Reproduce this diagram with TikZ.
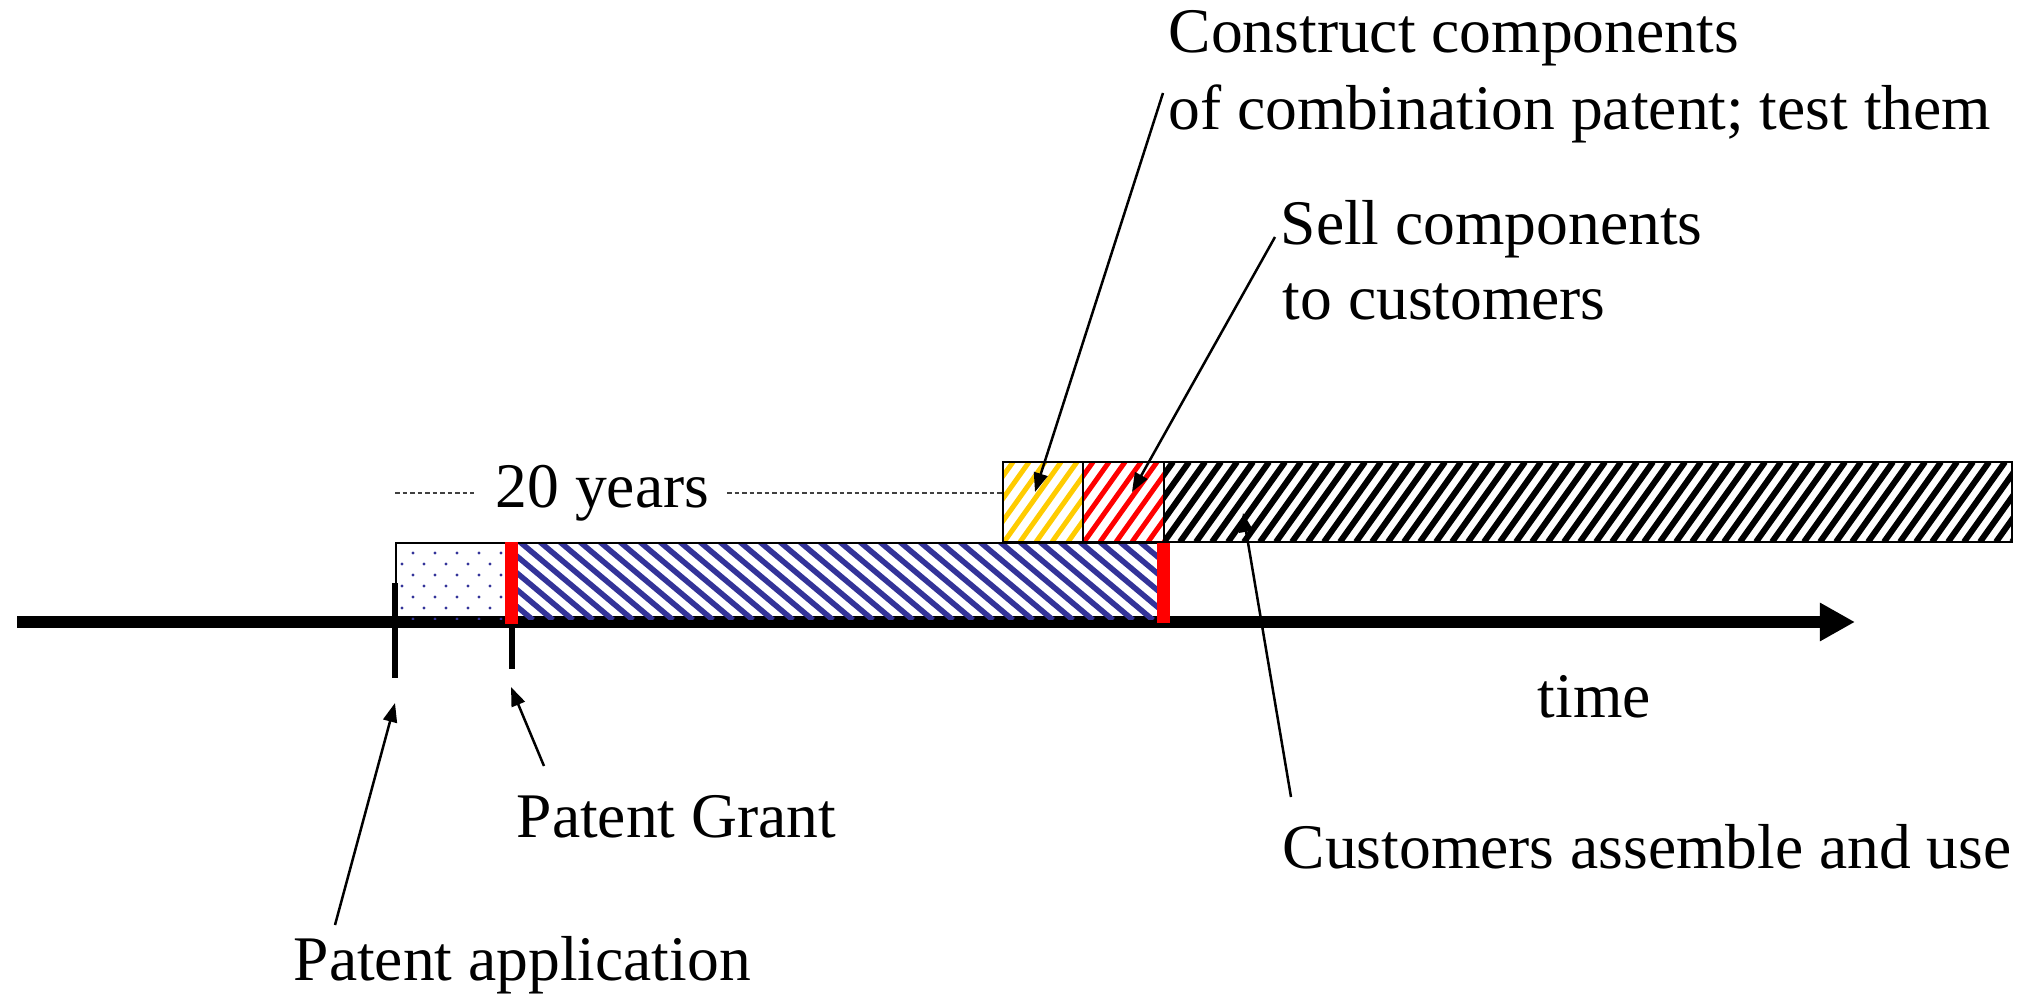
\documentclass[tikz,border=0pt]{standalone}
\usepackage{fontspec}
\setmainfont{Liberation Serif}
\usetikzlibrary{arrows.meta}
\definecolor{hyellow}{HTML}{FFCC00}
\definecolor{hblue}{HTML}{333399}
\definecolor{hred}{HTML}{FF0000}
\begin{document}
\begin{tikzpicture}[x=0.01cm,y=-0.01cm,
  lbl/.style={anchor=base west,inner sep=0pt,font=\fontsize{18.07pt}{21pt}\selectfont},
  callout/.style={line width=0.025cm,-{Triangle[length=0.19cm,width=0.14cm]}},
  boxline/.style={draw=black,line width=0.02cm},
  tick/.style={line width=0.06cm},
  redmark/.style={fill=hred,draw=none},
  guide/.style={draw=black!75,line width=0.015cm,dash pattern=on 0.045cm off 0.03cm}]
\useasboundingbox (0,0) rectangle (2035,994);

% time axis
\coordinate (axL) at (17,622);
\coordinate (axR) at (1855,622);
\draw[line width=0.12cm,-{Triangle[length=0.35cm,width=0.36cm]}] (axL) -- (axR);

% patent bar: dotted part
\begin{scope}
\clip (395,542) rectangle (505,620);
\foreach \r in {0,2,4,6} {
  \foreach \c in {0,...,5} {
    \fill[hblue] (413+22*\c,553+11*\r) circle (1.6);
  }
}
\foreach \r in {1,3,5} {
  \foreach \c in {0,...,5} {
    \fill[hblue] (402+22*\c,553+11*\r) circle (1.6);
  }
}
\end{scope}
% patent bar: blue hatch
\begin{scope}
\clip (505,542) rectangle (1164,620);
\foreach \x in {400,420,...,1180} {
  \draw[hblue,line width=0.055cm] (\x,542) -- ++(93,78);
}
\end{scope}
\node[boxline,minimum width=7.69cm,minimum height=0.78cm,anchor=north west,inner sep=0pt] (patent) at (395,542) {};

% ticks
\coordinate (appT) at (395,583);
\coordinate (appB) at (395,678);
\coordinate (grT) at (512,622);
\coordinate (grB) at (512,669);
\draw[tick] (appT) -- (appB);
\draw[tick] (grT) -- (grB);

% red marks
\fill[redmark] (505,542) rectangle (518,624);
\fill[redmark] (1157,542) rectangle (1170,623);

% upper boxes
\begin{scope}
\clip (1003,462) rectangle (1083,542);
\foreach \x in {940,956,...,1090} {
  \draw[hyellow,line width=0.05cm] (\x,542) -- ++(57,-80);
}
\end{scope}
\begin{scope}
\clip (1083,462) rectangle (1164,542);
\foreach \x in {1020,1036,...,1170} {
  \draw[hred,line width=0.05cm] (\x,542) -- ++(57,-80);
}
\end{scope}
\begin{scope}
\clip (1164,462) rectangle (2012,542);
\foreach \x in {1100,1116,...,2020} {
  \draw[black,line width=0.06cm] (\x,542) -- ++(57,-80);
}
\end{scope}
\draw[boxline] (1003,462) rectangle (1083,542);
\draw[boxline] (1083,462) rectangle (1164,542);
\draw[boxline] (1164,462) rectangle (2012,542);

% 20 years
\node[lbl] (years) at (495,508) {20 years};
\coordinate (gL1) at (395,493);
\coordinate (gL2) at (474,493);
\coordinate (gR1) at (727,493);
\coordinate (gR2) at (1003,493);
\draw[guide] (gL1) -- (gL2);
\draw[guide] (gR1) -- (gR2);

% labels
\node[lbl] (con1) at (1168,53) {Construct components};
\node[lbl] (con2) at (1168,130) {of combination patent; test them};
\node[lbl] (sell1) at (1280,245) {Sell components};
\node[lbl] (sell2) at (1282,320) {to customers};
\node[lbl] (time) at (1537,717) {time};
\node[lbl] (grant) at (516,837) {Patent Grant};
\node[lbl] (cust) at (1282,868) {Customers assemble and use};
\node[lbl] (appl) at (293,980) {Patent application};

% callouts
\coordinate (conTail) at (1163,93);
\coordinate (conTip) at (1035,492);
\coordinate (sellTail) at (1275,237);
\coordinate (sellTip) at (1132,492);
\coordinate (custTail) at (1291,797);
\coordinate (custTip) at (1243,513);
\coordinate (grantTail) at (544,766);
\coordinate (grantTip) at (511,687);
\coordinate (applTail) at (335,925);
\coordinate (applTip) at (395,703);
\draw[callout] (conTail) -- (conTip);
\draw[callout] (sellTail) -- (sellTip);
\draw[callout] (custTail) -- (custTip);
\draw[callout] (grantTail) -- (grantTip);
\draw[callout] (applTail) -- (applTip);
\end{tikzpicture}
\end{document}
